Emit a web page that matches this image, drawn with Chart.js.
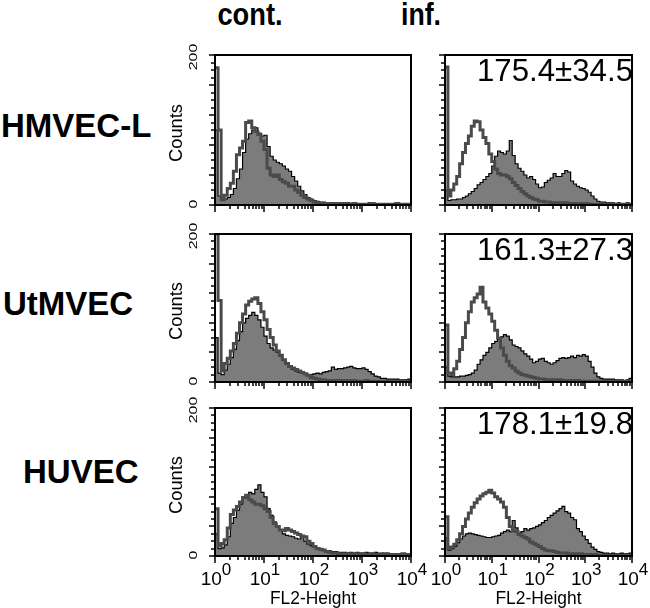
<!DOCTYPE html>
<html>
<head>
<meta charset="utf-8">
<script src="https://cdn.jsdelivr.net/npm/chart.js@4.4.1/dist/chart.umd.min.js"></script>
<style>
html,body{margin:0;padding:0;background:#fff;}
body{width:650px;height:608px;position:relative;overflow:hidden;font-family:"Liberation Sans",Arial,Helvetica,sans-serif;}
canvas{position:absolute;}
.lbl{position:absolute;font-weight:bold;white-space:nowrap;color:#000;}
</style>
</head>
<body>
<div id="labels"></div>
<script>
// ---------- data ----------
const conditions = ['cont.', 'inf.'];
const cellLines = ['HMVEC-L', 'UtMVEC', 'HUVEC'];
const statLabels = ['175.4\u00B134.5', '161.3\u00B127.3', '178.1\u00B119.8'];
const decadeExponents = ['0', '1', '2', '3', '4'];
const yTickLabels = ['0', '200'];
const yMinorStep = 10;
const yMajorStep = 40;
const xAxisTitle = 'FL2-Height';
const yAxisTitle = 'Counts';
const binsPerDecade = 16;   // 64 channels over 4 decades

// HMVEC-L
const hmvecContOpen = [183,100,7,13,22,29,45,67,76,85,110,112,103,98,94,85,74,49,40,38,40,34,31,29,25,25,20,17,13,10,8,6,4,3,2,2,
  2,2,2,2,2,1,2,1,1,2,1,1,1,1,1,2,1,1,1,1,1,1,1,2,1,1,1,1];
const hmvecContFilled = [100,12,6,8,10,14,22,35,48,70,88,95,100,103,96,92,93,78,65,60,57,55,52,48,45,38,32,25,19,14,10,8,6,5,4,4,3,
  3,3,2,3,2,2,3,2,2,2,2,1,2,3,2,1,2,2,1,2,1,1,3,1,1,2,1];
const hmvecInfOpen = [184,12,20,28,38,55,70,82,92,105,112,111,100,90,82,68,58,48,42,40,40,38,35,30,26,22,18,15,12,10,8,7,5,5,4,4,3,3,
  3,3,2,3,2,2,2,2,2,1,2,1,1,1,1,1,1,1,1,1,1,1,1,1,1,1];
const hmvecInfFilled = [20,6,7,7,8,8,10,12,15,18,22,27,30,34,38,42,52,65,72,70,68,72,86,66,55,49,45,40,36,38,34,28,23,24,30,33,36,42,38,38,
  42,46,44,32,28,25,23,22,20,17,12,8,5,4,4,3,3,3,2,3,2,2,3,2];

// UtMVEC
const utContOpen = [200,110,15,25,32,42,52,66,80,92,104,109,112,114,106,95,84,71,60,50,42,36,30,25,21,19,17,15,13,11,9,6,5,4,3,3,
  2,2,2,2,2,2,2,1,2,2,1,1,1,2,1,1,1,1,1,1,1,1,1,1,1,1,1,1];
const utContFilled = [60,12,10,16,24,33,44,56,68,80,86,90,94,90,84,74,62,52,46,43,40,35,30,24,20,17,15,13,12,11,
  10,10,11,12,11,13,14,15,20,17,18,18,19,20,21,19,18,18,19,17,14,11,8,7,5,5,4,4,4,4,3,3,3,4];
const utInfOpen = [77,12,10,18,28,44,60,80,95,108,114,119,128,108,100,92,82,70,59,46,36,28,22,19,15,12,10,9,8,7,6,5,4,4,3,3,3,3,
  2,3,2,2,2,2,1,2,1,1,1,1,1,1,1,1,1,1,1,1,1,1,1,1,1,1];
const utInfFilled = [20,8,7,7,7,8,8,9,10,12,16,24,30,36,40,46,52,55,58,61,64,62,57,50,48,46,42,38,35,31,
  26,28,31,32,28,26,24,26,29,32,33,32,33,35,33,36,35,37,35,28,20,12,7,5,4,4,4,4,3,3,3,2,3,5];

// HUVEC
const huvecContOpen = [64,14,17,22,38,56,62,67,73,79,82,76,73,70,70,68,64,60,52,44,40,35,34,37,35,33,31,29,27,26,20,17,13,10,9,8,6,5,4,4,
  3,3,3,3,2,3,3,2,3,2,2,3,2,2,2,3,2,2,2,2,2,3,2,2];
const huvecContFilled = [30,10,11,15,26,44,52,62,70,78,82,86,84,90,96,86,80,64,55,46,40,35,30,28,27,26,24,23,26,20,
  16,14,13,10,9,8,7,7,6,6,5,5,5,4,5,4,5,4,4,5,4,4,5,4,4,3,4,3,3,3,3,2,3,3];
const huvecInfOpen = [53,10,12,16,22,30,40,50,58,66,72,77,81,84,86,89,85,80,77,73,66,52,40,34,33,29,27,25,23,19,
  17,15,13,10,8,7,7,6,5,4,4,4,3,3,3,2,3,2,2,2,1,2,1,1,1,1,1,1,1,1,1,1,1,1];
const huvecInfFilled = [25,8,10,13,18,23,27,30,31,30,29,28,27,26,25,25,26,27,28,31,33,35,33,48,38,31,33,37,35,37,
  38,40,42,45,48,52,55,58,61,64,67,60,58,52,49,37,33,27,22,17,12,9,6,5,4,4,3,4,3,3,4,3,3,4];

// ---------- layout ----------
const FONT = '"Liberation Sans", Arial, Helvetica, sans-serif';
const colBox = [{left: 215, right: 411}, {left: 445, right: 632}];
const rowBox = [{top: 55, bottom: 205}, {top: 234, bottom: 382}, {top: 408, bottom: 556}];
const colCanvas = [{left: 160, right: 427}, {left: 427, right: 650}];
const rowCanvasBottom = [217, 394, 608];

const panels = [
  {row: 0, col: 0, open: hmvecContOpen, filled: hmvecContFilled},
  {row: 0, col: 1, open: hmvecInfOpen, filled: hmvecInfFilled},
  {row: 1, col: 0, open: utContOpen, filled: utContFilled},
  {row: 1, col: 1, open: utInfOpen, filled: utInfFilled},
  {row: 2, col: 0, open: huvecContOpen, filled: huvecContFilled},
  {row: 2, col: 1, open: huvecInfOpen, filled: huvecInfFilled}
];

const nChannels = binsPerDecade * decadeExponents.length - binsPerDecade;
function toPoints(vals) {
  const pts = [];
  for (let i = 0; i <= nChannels; i++) {
    pts.push({x: Math.pow(10, i / binsPerDecade), y: vals[Math.min(i, nChannels - 1)]});
  }
  return pts;
}

// ---------- HTML labels ----------
const labelsDiv = document.getElementById('labels');
function addLabel(text, css) {
  const d = document.createElement('div');
  d.className = 'lbl';
  d.textContent = text;
  d.style.cssText = css;
  labelsDiv.appendChild(d);
}
addLabel(conditions[0], 'left:150px;top:-1px;width:200px;text-align:center;font-size:31px;line-height:31px;transform:scaleX(0.88);');
addLabel(conditions[1], 'left:321px;top:-1px;width:200px;text-align:center;font-size:31px;line-height:31px;transform:scaleX(0.86);');
const rowLabelPos = [{left: 1, top: 109}, {left: 3, top: 287}, {left: 23, top: 455}];
cellLines.forEach((t, i) => addLabel(t, `left:${rowLabelPos[i].left}px;top:${rowLabelPos[i].top}px;font-size:33px;line-height:33px;`));

// draw text fitted to a target width
function fitText(ctx, text, x, y, size, targetW, align) {
  ctx.font = size + 'px ' + FONT;
  const w = ctx.measureText(text).width;
  const s = targetW / w;
  ctx.save();
  ctx.translate(x, y);
  ctx.scale(s, 1);
  ctx.textAlign = align;
  ctx.fillText(text, 0, 0);
  ctx.restore();
}

// ---------- decoration plugin (box, ticks, labels) ----------
const panelDecor = {
  id: 'panelDecor',
  afterDraw(chart, args, opts) {
    const {ctx, chartArea: a} = chart;
    const xs = chart.scales.x, ys = chart.scales.y;
    ctx.save();
    ctx.strokeStyle = '#000';
    ctx.fillStyle = '#000';
    ctx.textBaseline = 'alphabetic';
    // y ticks
    ctx.lineWidth = 1.5;
    const yMax = Number(yTickLabels[yTickLabels.length - 1]);
    for (let v = 0; v <= yMax; v += yMinorStep) {
      const py = Math.round(ys.getPixelForValue(v));
      const len = v % yMajorStep === 0 ? 6 : 4;
      ctx.beginPath(); ctx.moveTo(a.left - len, py); ctx.lineTo(a.left, py); ctx.stroke();
    }
    // x ticks (log)
    for (let d = 0; d < decadeExponents.length; d++) {
      const maxM = d === decadeExponents.length - 1 ? 1 : 9;
      for (let m = 1; m <= maxM; m++) {
        const px = Math.round(xs.getPixelForValue(m * Math.pow(10, d)));
        const len = m === 1 ? 7 : 4;
        ctx.beginPath(); ctx.moveTo(px, a.bottom); ctx.lineTo(px, a.bottom + len); ctx.stroke();
      }
    }
    // box
    ctx.lineWidth = 2;
    ctx.strokeRect(a.left, a.top, a.right - a.left, a.bottom - a.top);

    // y labels
    if (opts.yLabels) {
      yTickLabels.forEach(t => {
        const py = ys.getPixelForValue(Number(t)) + (Number(t) === 0 ? -1 : 2);
        ctx.save();
        ctx.translate(a.left - 21, py);
        ctx.rotate(-Math.PI / 2);
        ctx.scale(1.45, 1);
        ctx.font = '11px ' + FONT;
        ctx.textAlign = 'center';
        ctx.textBaseline = 'middle';
        ctx.fillText(t, 0, 0);
        ctx.restore();
      });
      ctx.save();
      ctx.translate(a.left - 33, (a.top + a.bottom) / 2 + 3);
      ctx.rotate(-Math.PI / 2);
      fitText(ctx, yAxisTitle, 0, 0, 18, 58, 'center');
      ctx.restore();
    }
    // x labels
    if (opts.xLabels) {
      decadeExponents.forEach((e, d) => {
        const px = xs.getPixelForValue(Math.pow(10, d));
        ctx.font = '19px ' + FONT;
        const wBase = ctx.measureText('10').width;
        ctx.font = '17px ' + FONT;
        const wSup = ctx.measureText(e).width;
        const x0 = px - (wBase + wSup) / 2 + 1;
        ctx.textAlign = 'left';
        ctx.font = '19px ' + FONT;
        ctx.fillText('10', x0, a.bottom + 29);
        ctx.font = '17px ' + FONT;
        ctx.fillText(e, x0 + wBase, a.bottom + 19);
      });
      fitText(ctx, xAxisTitle, (a.left + a.right) / 2, a.bottom + 48, 19, 86, 'center');
    }
    // stat text
    if (opts.stat) {
      fitText(ctx, opts.stat, a.right + 1, a.top + 26, 31, 156, 'right');
    }
    ctx.restore();
  }
};

// ---------- charts ----------
const openColor = '#4a4a4a';
const fillColor = '#7c7c7c';

panels.forEach(p => {
  const cb = colBox[p.col], rb = rowBox[p.row], cc = colCanvas[p.col];
  const top = rb.top - 14;
  const bottom = rowCanvasBottom[p.row];
  const w = cc.right - cc.left, h = bottom - top;
  const cv = document.createElement('canvas');
  cv.width = w; cv.height = h;
  cv.style.left = cc.left + 'px';
  cv.style.top = top + 'px';
  cv.style.width = w + 'px';
  cv.style.height = h + 'px';
  document.body.appendChild(cv);
  new Chart(cv, {
    type: 'line',
    data: {
      datasets: [
        {data: toPoints(p.open), borderColor: openColor, borderWidth: 3, fill: false,
         stepped: true, pointRadius: 0, borderJoinStyle: 'miter', borderCapStyle: 'butt'},
        {data: toPoints(p.filled), borderColor: '#000', borderWidth: 1.2, backgroundColor: fillColor,
         fill: 'origin', stepped: true, pointRadius: 0, borderJoinStyle: 'miter'}
      ]
    },
    options: {
      responsive: false,
      animation: false,
      devicePixelRatio: 1,
      events: [],
      layout: {padding: {left: cb.left - cc.left, right: cc.right - cb.right, top: 14, bottom: bottom - rb.bottom}},
      scales: {
        x: {type: 'logarithmic', min: 1, max: 10000, display: false},
        y: {type: 'linear', min: 0, max: 200, display: false}
      },
      plugins: {
        legend: {display: false},
        tooltip: {enabled: false},
        panelDecor: {
          yLabels: p.col === 0,
          xLabels: p.row === 2,
          stat: p.col === 1 ? statLabels[p.row] : null
        }
      }
    },
    plugins: [panelDecor]
  });
});
</script>
</body>
</html>
